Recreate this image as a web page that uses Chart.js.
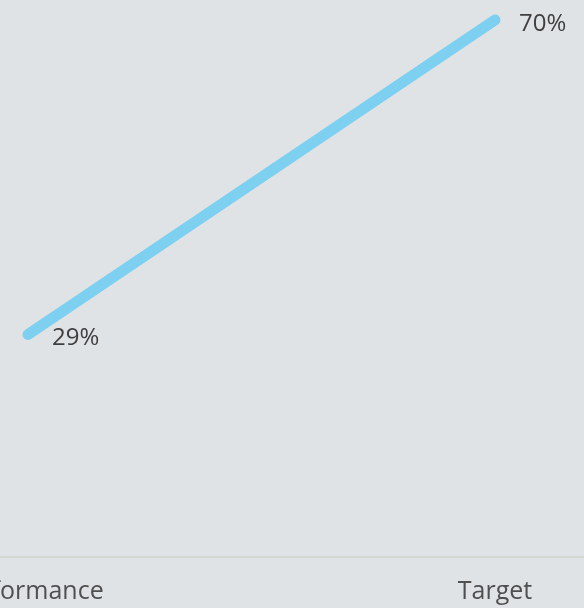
<!DOCTYPE html>
<html>
<head>
<meta charset="utf-8">
<script src="https://cdn.jsdelivr.net/npm/chart.js@4"></script>
<style>
  html, body { margin: 0; padding: 0; background: #e0e3e6; }
  #wrap { width: 584px; height: 608px; }
</style>
</head>
<body>
<div id="wrap"><canvas id="chart" width="584" height="608"></canvas></div>
<script>
// chart data
const categories = ['Performance', 'Target'];
const values = [29, 70];
const yMin = 0;
const yMax = 70;

// baseline runs across the whole canvas, not only the plot area
const fullBaseline = {
    id: 'fullBaseline',
    beforeDatasetsDraw(chart) {
        const c = chart.ctx;
        const y = chart.scales.x.top;
        c.save();
        c.strokeStyle = '#d4d6d4';
        c.lineWidth = 2;
        c.beginPath();
        c.moveTo(0, y);
        c.lineTo(chart.width, y);
        c.stroke();
        c.restore();
    }
};

// draws "29%" / "70%" to the right of each point
const valueLabels = {
    id: 'valueLabels',
    afterDatasetsDraw(chart) {
        const c = chart.ctx;
        const meta = chart.getDatasetMeta(0);
        c.save();
        c.font = '24px "Open Sans"';
        c.fillStyle = '#3f3f3f';
        c.textAlign = 'left';
        c.textBaseline = 'middle';
        meta.data.forEach((pt, i) => {
            c.fillText(values[i] + '%', pt.x + 24, pt.y + 4);
        });
        c.restore();
    }
};

let ctx = document.getElementById('chart');
var chart = new Chart(ctx, {
    type: 'line',
    data: {
        labels: categories,
        datasets: [
            {
                data: values,
                borderColor: '#7dd0f0',
                borderWidth: 11,
                borderCapStyle: 'round',
                pointRadius: 0,
                tension: 0,
                fill: false,
                clip: false,
            }
        ],
    },
    options: {
        responsive: false,
        animation: false,
        layout: { padding: { left: 28, right: 89, top: 20, bottom: 0 } },
        scales: {
            x: {
                offset: false,
                grid: { display: false, drawTicks: false },
                border: { display: false },
                ticks: {
                    color: '#4f4f4f',
                    font: { family: 'Open Sans', size: 25 },
                    padding: 20,
                    maxRotation: 0,
                    autoSkip: false,
                },
                afterFit: (s) => {
                    s.paddingLeft = 0;
                    s.paddingRight = 0;
                    s.height = 51;
                },
            },
            y: {
                display: false,
                min: yMin,
                max: yMax,
            },
        },
        plugins: {
            legend: { display: false },
            tooltip: { enabled: false },
        },
    },
    plugins: [fullBaseline, valueLabels],
});
</script>
</body>
</html>
